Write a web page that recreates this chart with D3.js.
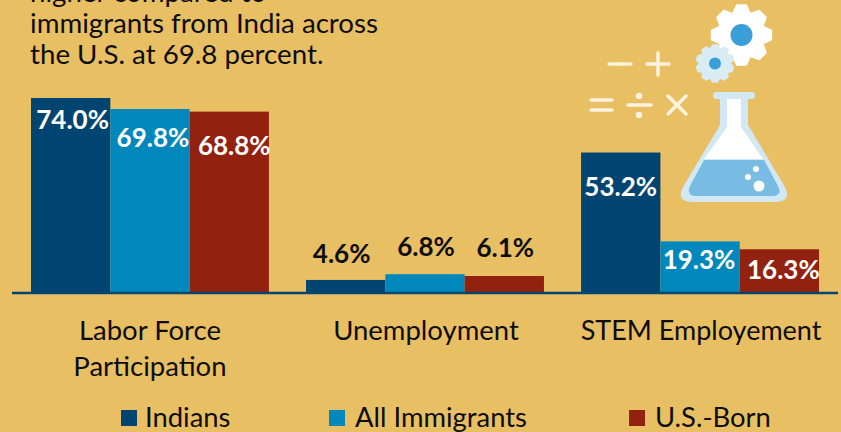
<!DOCTYPE html>
<html>
<head>
<meta charset="utf-8">
<script src="https://cdnjs.cloudflare.com/ajax/libs/d3/7.8.5/d3.min.js"></script>
<style>
html, body { margin: 0; padding: 0; background: #e9bf63; overflow: hidden; }
text { font-family: Lato, "Open Sans", sans-serif; }
</style>
</head>
<body>
<div id="chart"></div>
<script>
const categories = ['Labor Force Participation', 'Unemployment', 'STEM Employement'];
const seriesNames = ['Indians', 'All Immigrants', 'U.S.-Born'];
const indians = [74.0, 4.6, 53.2];
const allImmigrants = [69.8, 6.8, 19.3];
const usBorn = [68.8, 6.1, 16.3];
const introLines = ['higher compared to', 'immigrants from India across', 'the U.S. at 69.8 percent.'];

const seriesValues = [indians, allImmigrants, usBorn];
const colors = ['#004471', '#0088bd', '#932110'];
const categoryLines = [['Labor Force', 'Participation'], ['Unemployment'], ['STEM Employement']];

// label nudges from the bar top / bar centre (series x category)
const labelOffsets = [[31, -17, 43], [38, -18, 27.5], [43.5, -19, 29.5]];
const labelShifts = [[2, -4, 0], [3, 1, -1], [5, 1, 4]];

const width = 841;
const height = 432;
const baseline = 292;

const svg = d3.select('#chart').append('svg')
    .attr('width', width)
    .attr('height', height)
    .style('display', 'block');

svg.append('rect').attr('width', width).attr('height', height).attr('fill', '#e9bf63');

//-----intro text-----
svg.selectAll('.intro')
    .data(introLines)
    .enter().append('text')
        .attr('class', 'intro')
        .attr('x', 30)
        .attr('y', (d, i) => 2 + i * 31)
        .attr('font-size', 27.7)
        .attr('fill', '#0d0d0d')
        .text(d => d);

//-----scales-----
const x0 = d3.scaleBand().domain(categories).range([31, 819]).paddingInner(0.135);
const x1 = d3.scaleBand().domain(seriesNames).range([0, x0.bandwidth()]);
const y = d3.scaleLinear().domain([0, 74]).range([baseline, 98]);

//-----bars-----
const groups = svg.selectAll('.group')
    .data(categories)
    .enter().append('g')
        .attr('class', 'group')
        .attr('transform', d => 'translate(' + x0(d) + ',0)');

groups.each(function (cat, c) {
    const g = d3.select(this);
    seriesNames.forEach((name, s) => {
        const v = seriesValues[s][c];
        g.append('rect')
            .attr('x', x1(name))
            .attr('y', y(v))
            .attr('width', x1.bandwidth())
            .attr('height', baseline - y(v))
            .attr('fill', colors[s]);
        g.append('text')
            .attr('x', x1(name) + x1.bandwidth() / 2 + labelShifts[s][c])
            .attr('y', y(v) + labelOffsets[s][c])
            .attr('text-anchor', 'middle')
            .attr('font-size', 26)
            .attr('font-weight', 700)
            .attr('fill', c === 1 ? '#0d0d0d' : '#ffffff')
            .text(v.toFixed(1) + '%');
    });
});

//-----axis-----
svg.append('line')
    .attr('x1', 12).attr('x2', 838)
    .attr('y1', baseline + 1).attr('y2', baseline + 1)
    .attr('stroke', '#004471')
    .attr('stroke-width', 2.5);

//-----category labels-----
categories.forEach((cat, c) => {
    categoryLines[c].forEach((line, i) => {
        svg.append('text')
            .attr('x', x0(cat) + x0.bandwidth() / 2 + (c === 0 ? 0 : 1))
            .attr('y', 340 + i * 36)
            .attr('text-anchor', 'middle')
            .attr('font-size', c === 2 ? 27 : 27.5)
            .attr('fill', '#0d0d0d')
            .text(line);
    });
});

//-----legend-----
const legendX = d3.scaleOrdinal().domain(seriesNames).range([121, 329, 629]);
const legend = svg.selectAll('.legend')
    .data(seriesNames)
    .enter().append('g')
        .attr('class', 'legend')
        .attr('transform', d => 'translate(' + legendX(d) + ',0)');
legend.append('rect')
    .attr('y', 410).attr('width', 16).attr('height', 16)
    .attr('fill', (d, i) => colors[i]);
legend.append('text')
    .attr('x', d => d === 'Indians' ? 24 : 26)
    .attr('y', 427)
    .attr('font-size', 27.4)
    .attr('fill', '#0d0d0d')
    .text(d => d);

//-----icon: math signs-----
const icon = svg.append('g');
const signs = [
    [609, 64, 631, 64], [647, 64, 669, 64], [658, 53, 658, 75],
    [591, 100, 612, 100], [591, 110, 612, 110], [628, 105, 651, 105],
    [668, 96, 686, 114], [686, 96, 668, 114]
];
icon.selectAll('.sign')
    .data(signs)
    .enter().append('line')
        .attr('class', 'sign')
        .attr('x1', d => d[0]).attr('y1', d => d[1])
        .attr('x2', d => d[2]).attr('y2', d => d[3])
        .attr('stroke', '#fbf3e0')
        .attr('stroke-width', 3.5)
        .attr('stroke-linecap', 'round');
icon.selectAll('.dot')
    .data([96, 115])
    .enter().append('circle')
        .attr('class', 'dot')
        .attr('cx', 639).attr('cy', d => d).attr('r', 3.2)
        .attr('fill', '#fbf3e0');

//-----icon: gears-----
function gearPath(rOut, rIn, teeth) {
    const pts = [];
    for (let i = 0; i < teeth; i++) {
        const a = (i / teeth) * 2 * Math.PI;
        const w = Math.PI / teeth;
        pts.push([a - w * 0.95, rIn], [a - w * 0.4, rOut], [a + w * 0.4, rOut], [a + w * 0.95, rIn]);
    }
    return d3.lineRadial().angle(d => d[0]).radius(d => d[1]).curve(d3.curveLinearClosed)(pts);
}
[[741.5, 35, 30, 23, 8, 11, '#ffffff', '#3a9fd8'], [715, 63.5, 18.5, 15, 10, 6, '#d9ecf4', '#3a9fd8']].forEach(p => {
    icon.append('path')
        .attr('d', gearPath(p[2], p[3], p[4]))
        .attr('transform', 'translate(' + p[0] + ',' + p[1] + ')')
        .attr('fill', p[6])
        .attr('stroke', p[6])
        .attr('stroke-width', 2)
        .attr('stroke-linejoin', 'round');
    icon.append('circle').attr('cx', p[0]).attr('cy', p[1]).attr('r', p[5]).attr('fill', p[7]);
});

//-----icon: flask-----
icon.append('path')
    .attr('d', 'M720 98 L748 98 L748 125 L785 187 Q792 202 774 202 L694 202 Q675 202 683 187 L720 125 Z')
    .attr('fill', '#d2e9f5');
icon.append('rect')
    .attr('x', 713).attr('y', 92).attr('width', 42).attr('height', 7).attr('rx', 3)
    .attr('fill', '#d2e9f5');
icon.append('path')
    .attr('d', 'M727 99 L741 99 L741 127 L763 159 L704 159 L727 127 Z')
    .attr('fill', '#ffffff');
icon.append('path')
    .attr('d', 'M704 160 L764 160 L778 186 Q783 196 772 196 L696 196 Q686 196 690 186 Z')
    .attr('fill', '#78bbe3');
[[759, 186, 5.5], [756, 169, 3], [748, 177, 3]].forEach(b => {
    icon.append('circle').attr('cx', b[0]).attr('cy', b[1]).attr('r', b[2]).attr('fill', '#ffffff');
});
</script>
</body>
</html>
